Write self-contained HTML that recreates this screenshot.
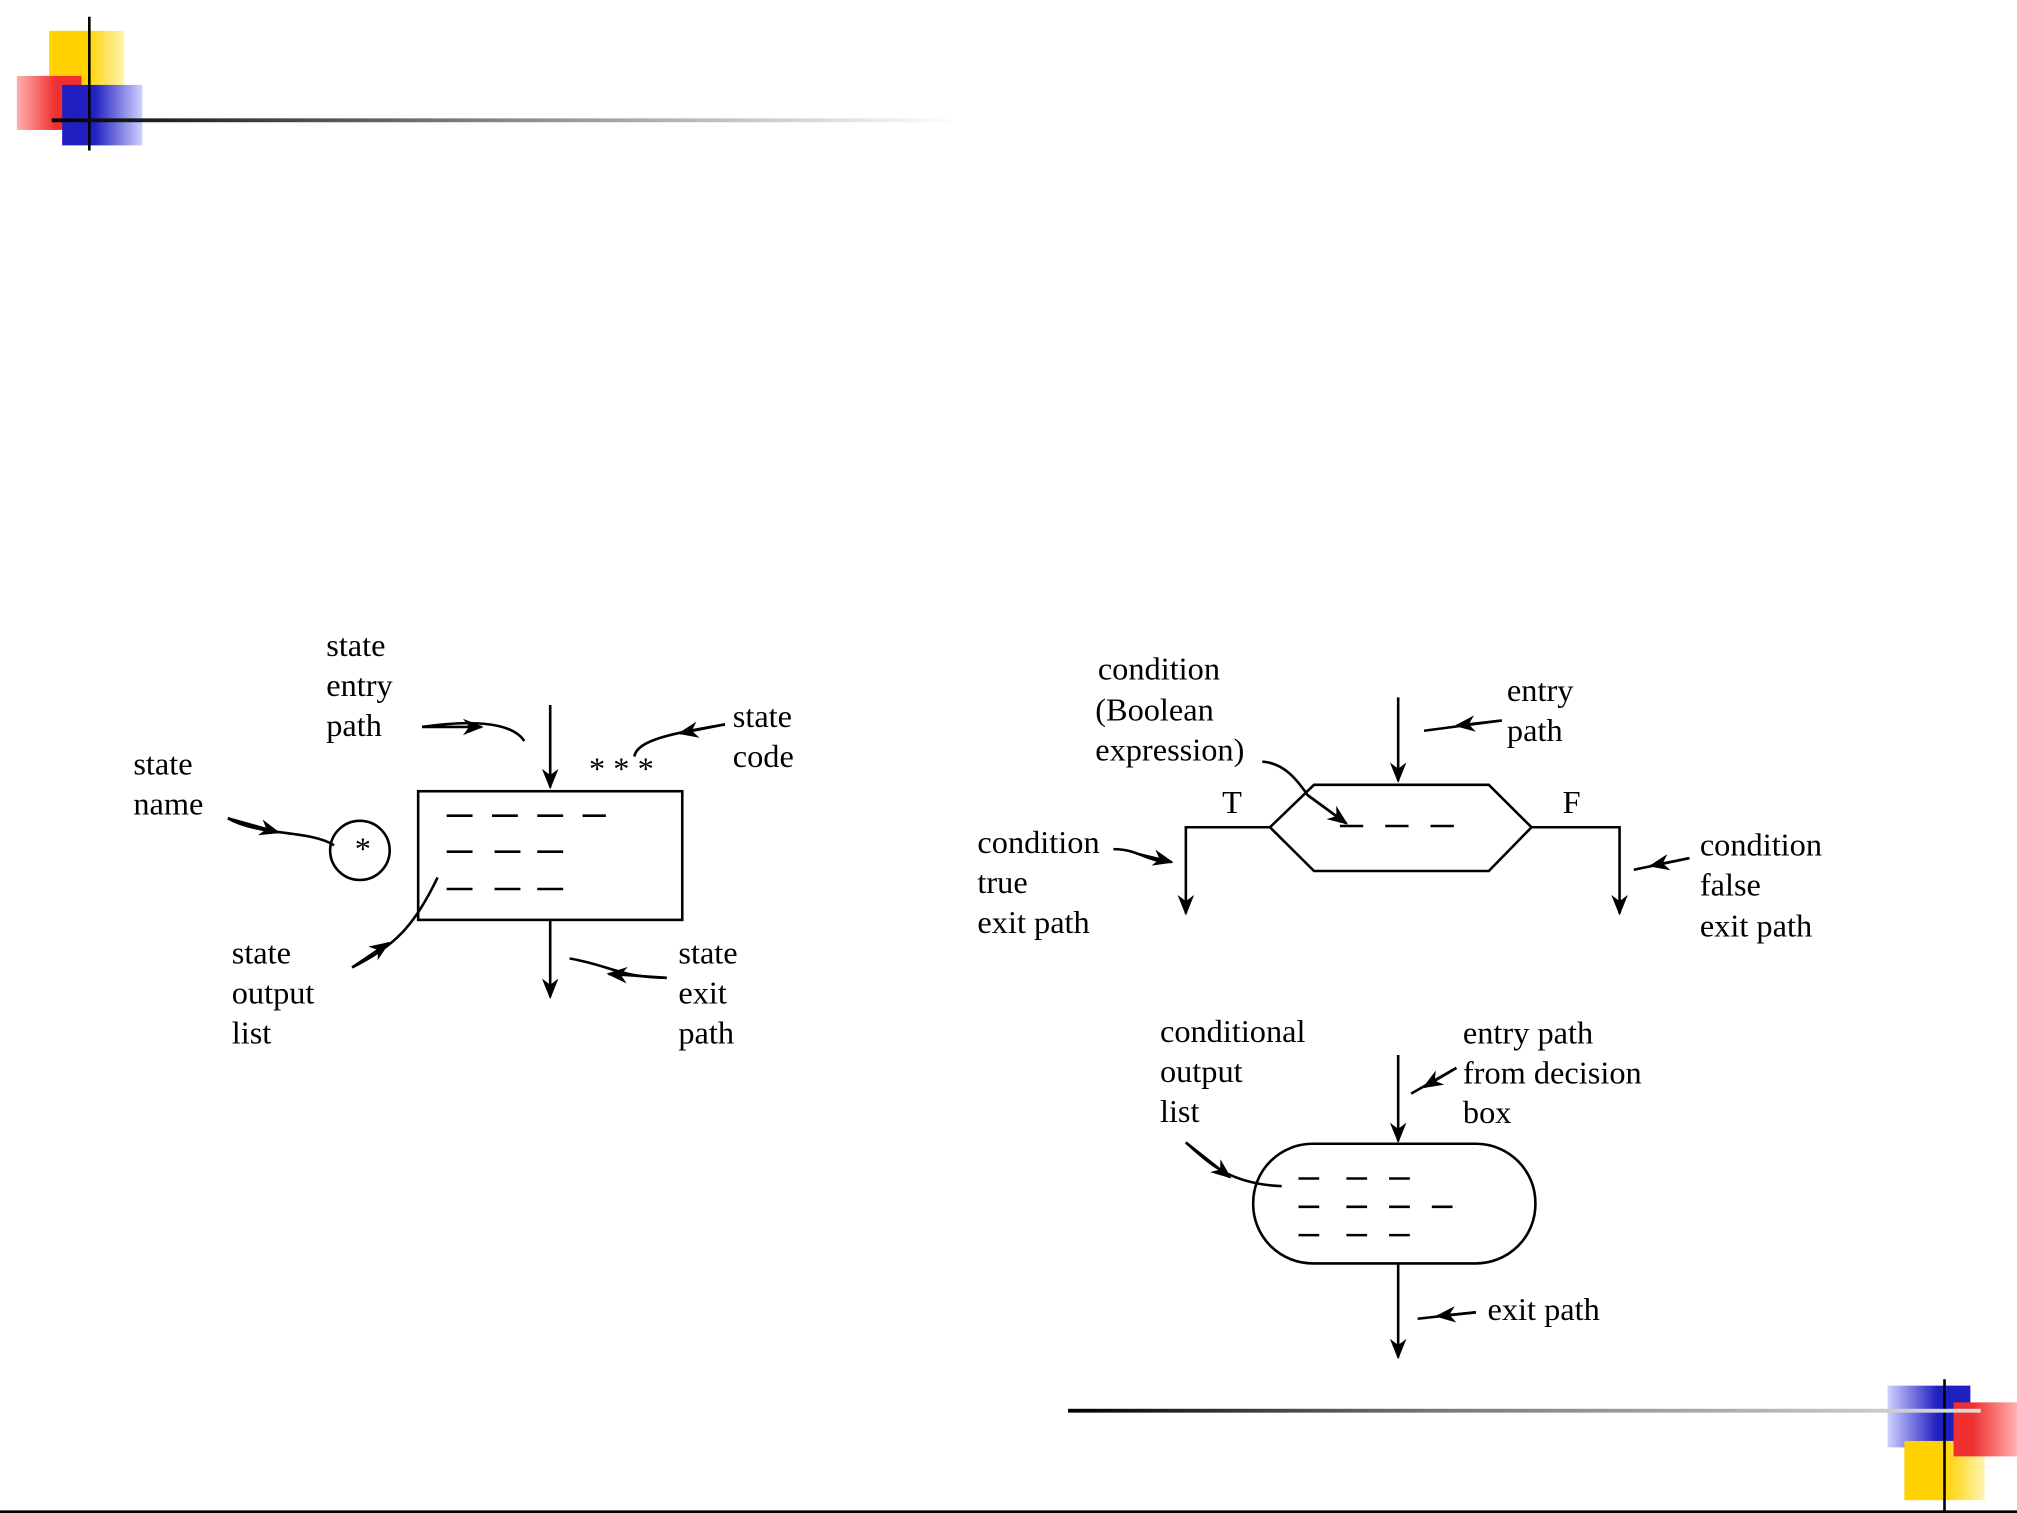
<!DOCTYPE html>
<html><head><meta charset="utf-8"><style>
html,body{margin:0;padding:0;background:#fff;}
svg{display:block;}
text{font-family:"Liberation Serif",serif;font-size:25px;fill:#000;}
</style></head><body>
<svg width="2017" height="1513" viewBox="0 0 1558 1176" preserveAspectRatio="none" xmlns="http://www.w3.org/2000/svg">
<defs>
<linearGradient id="tl" x1="0" x2="1"><stop offset="0" stop-color="#000"/><stop offset="0.5" stop-color="#888"/><stop offset="1" stop-color="#fff"/></linearGradient>
<linearGradient id="br" x1="0" x2="1"><stop offset="0" stop-color="#000"/><stop offset="0.4" stop-color="#777"/><stop offset="1" stop-color="#ddd"/></linearGradient>
<linearGradient id="yel" x1="0" x2="1"><stop offset="0.5" stop-color="#ffd200"/><stop offset="1" stop-color="#fff4b0"/></linearGradient>
<linearGradient id="red" x1="0" x2="1"><stop offset="0" stop-color="#ffb0b0"/><stop offset="0.6" stop-color="#f03030"/></linearGradient>
<linearGradient id="blu" x1="0" x2="1"><stop offset="0.4" stop-color="#2020c0"/><stop offset="1" stop-color="#d0d0ff"/></linearGradient>
<linearGradient id="blu2" x1="0" x2="1"><stop offset="0" stop-color="#d0d0ff"/><stop offset="0.6" stop-color="#2020c0"/></linearGradient>
<linearGradient id="red2" x1="0" x2="1"><stop offset="0.3" stop-color="#f03030"/><stop offset="1" stop-color="#ffb0b0"/></linearGradient>
<marker id="a" viewBox="0 0 10 10" refX="9" refY="5" markerWidth="8" markerHeight="8" orient="auto-start-reverse"><path d="M0,1 L10,5 L0,9 L3,5z" fill="#000"/></marker>
</defs>
<!-- top-left logo -->
<rect x="38" y="24" width="58" height="58" fill="url(#yel)"/>
<rect x="13" y="59" width="50" height="42" fill="url(#red)"/>
<rect x="48" y="66" width="62" height="47" fill="url(#blu)"/>
<line x1="69" y1="13" x2="69" y2="117" stroke="#000" stroke-width="2"/>
<rect x="40" y="92" width="700" height="3" fill="url(#tl)"/>
<!-- bottom-right logo -->
<rect x="1458" y="1077" width="64" height="48" fill="url(#blu2)"/>
<rect x="1471" y="1120" width="62" height="46" fill="url(#yel)"/>
<rect x="1509" y="1090" width="49" height="42" fill="url(#red2)"/>
<line x1="1502" y1="1072" x2="1502" y2="1176" stroke="#000" stroke-width="2"/>
<rect x="825" y="1095" width="705" height="3" fill="url(#br)"/>
<line x1="0" y1="1175" x2="1558" y2="1175" stroke="#000" stroke-width="2"/>

<g stroke="#000" stroke-width="2" fill="none">
<!-- state box -->
<rect x="323" y="615" width="204" height="100"/>
<line x1="425" y1="548" x2="425" y2="612" marker-end="url(#a)"/>
<line x1="425" y1="715" x2="425" y2="775" marker-end="url(#a)"/>
<circle cx="278" cy="661" r="23"/>
<path d="M345,634h20 M380,634h20 M415,634h20 M450,634h18 M345,662h20 M382,662h20 M415,662h20 M345,691h20 M382,691h20 M415,691h20"/>
<path d="M326,565 C360,560 395,560 405,576" />
<path d="M326,565 L372,565" marker-end="url(#a)"/>
<path d="M560,563 C520,570 492,575 490,588"/>
<path d="M560,563 L525,570" marker-end="url(#a)"/>
<path d="M176,636 C200,650 240,645 258,657"/>
<path d="M176,636 L215,647" marker-end="url(#a)"/>
<path d="M338,682 C320,720 305,735 272,752"/>
<path d="M272,752 L300,733" marker-end="url(#a)"/>
<path d="M440,745 C470,750 480,760 515,760"/>
<path d="M515,760 L470,757" marker-end="url(#a)"/>
<!-- decision -->
<polygon points="1015,610 1150,610 1183,643 1150,677 1015,677 981,643"/>
<line x1="1080" y1="542" x2="1080" y2="607" marker-end="url(#a)"/>
<polyline points="981,643 916,643 916,710" marker-end="url(#a)"/>
<polyline points="1183,643 1251,643 1251,710" marker-end="url(#a)"/>
<path d="M1035,642h18 M1070,642h18 M1105,642h18"/>
<path d="M975,592 C990,593 1000,603 1010,618 L1040,640"/>
<path d="M1010,618 L1040,640" marker-end="url(#a)"/>
<path d="M1160,560 L1100,568" />
<path d="M1160,560 L1125,564" marker-end="url(#a)"/>
<path d="M860,660 C880,660 885,670 905,670"/>
<path d="M880,664 L905,670" marker-end="url(#a)"/>
<path d="M1305,667 L1262,676"/>
<path d="M1305,667 L1275,673" marker-end="url(#a)"/>
<!-- conditional output -->
<rect x="968" y="889" width="218" height="93" rx="46" ry="46"/>
<line x1="1080" y1="820" x2="1080" y2="887" marker-end="url(#a)"/>
<line x1="1080" y1="982" x2="1080" y2="1055" marker-end="url(#a)"/>
<path d="M1003,916h16 M1040,916h16 M1073,916h16 M1003,938h16 M1040,938h16 M1073,938h16 M1106,938h16 M1003,960h16 M1040,960h16 M1073,960h16"/>
<path d="M916,888 C935,905 950,920 990,922"/>
<path d="M916,888 L950,915" marker-end="url(#a)"/>
<path d="M1125,830 L1090,850"/>
<path d="M1125,830 L1100,845" marker-end="url(#a)"/>
<path d="M1140,1020 L1095,1025"/>
<path d="M1140,1020 L1110,1023" marker-end="url(#a)"/>
</g>
<text x="455" y="606" font-size="18">* * *</text>
<text x="274" y="668" font-size="16">*</text>

<text x="252" y="510">state</text><text x="252" y="541">entry</text><text x="252" y="572">path</text>
<text x="566" y="565">state</text><text x="566" y="596">code</text>
<text x="103" y="602">state</text><text x="103" y="633">name</text>
<text x="179" y="749">state</text><text x="179" y="780">output</text><text x="179" y="811">list</text>
<text x="524" y="749">state</text><text x="524" y="780">exit</text><text x="524" y="811">path</text>

<text x="848" y="528">condition</text><text x="846" y="560">(Boolean</text><text x="846" y="591">expression)</text>
<text x="1164" y="545">entry</text><text x="1164" y="576">path</text>
<text x="944" y="632">T</text><text x="1207" y="632">F</text>
<text x="755" y="663">condition</text><text x="755" y="694">true</text><text x="755" y="725">exit path</text>
<text x="1313" y="665">condition</text><text x="1313" y="696">false</text><text x="1313" y="728">exit path</text>

<text x="896" y="810">conditional</text><text x="896" y="841">output</text><text x="896" y="872">list</text>
<text x="1130" y="811">entry path</text><text x="1130" y="842">from decision</text><text x="1130" y="873">box</text>
<text x="1149" y="1026">exit path</text>
</svg>
</body></html>
